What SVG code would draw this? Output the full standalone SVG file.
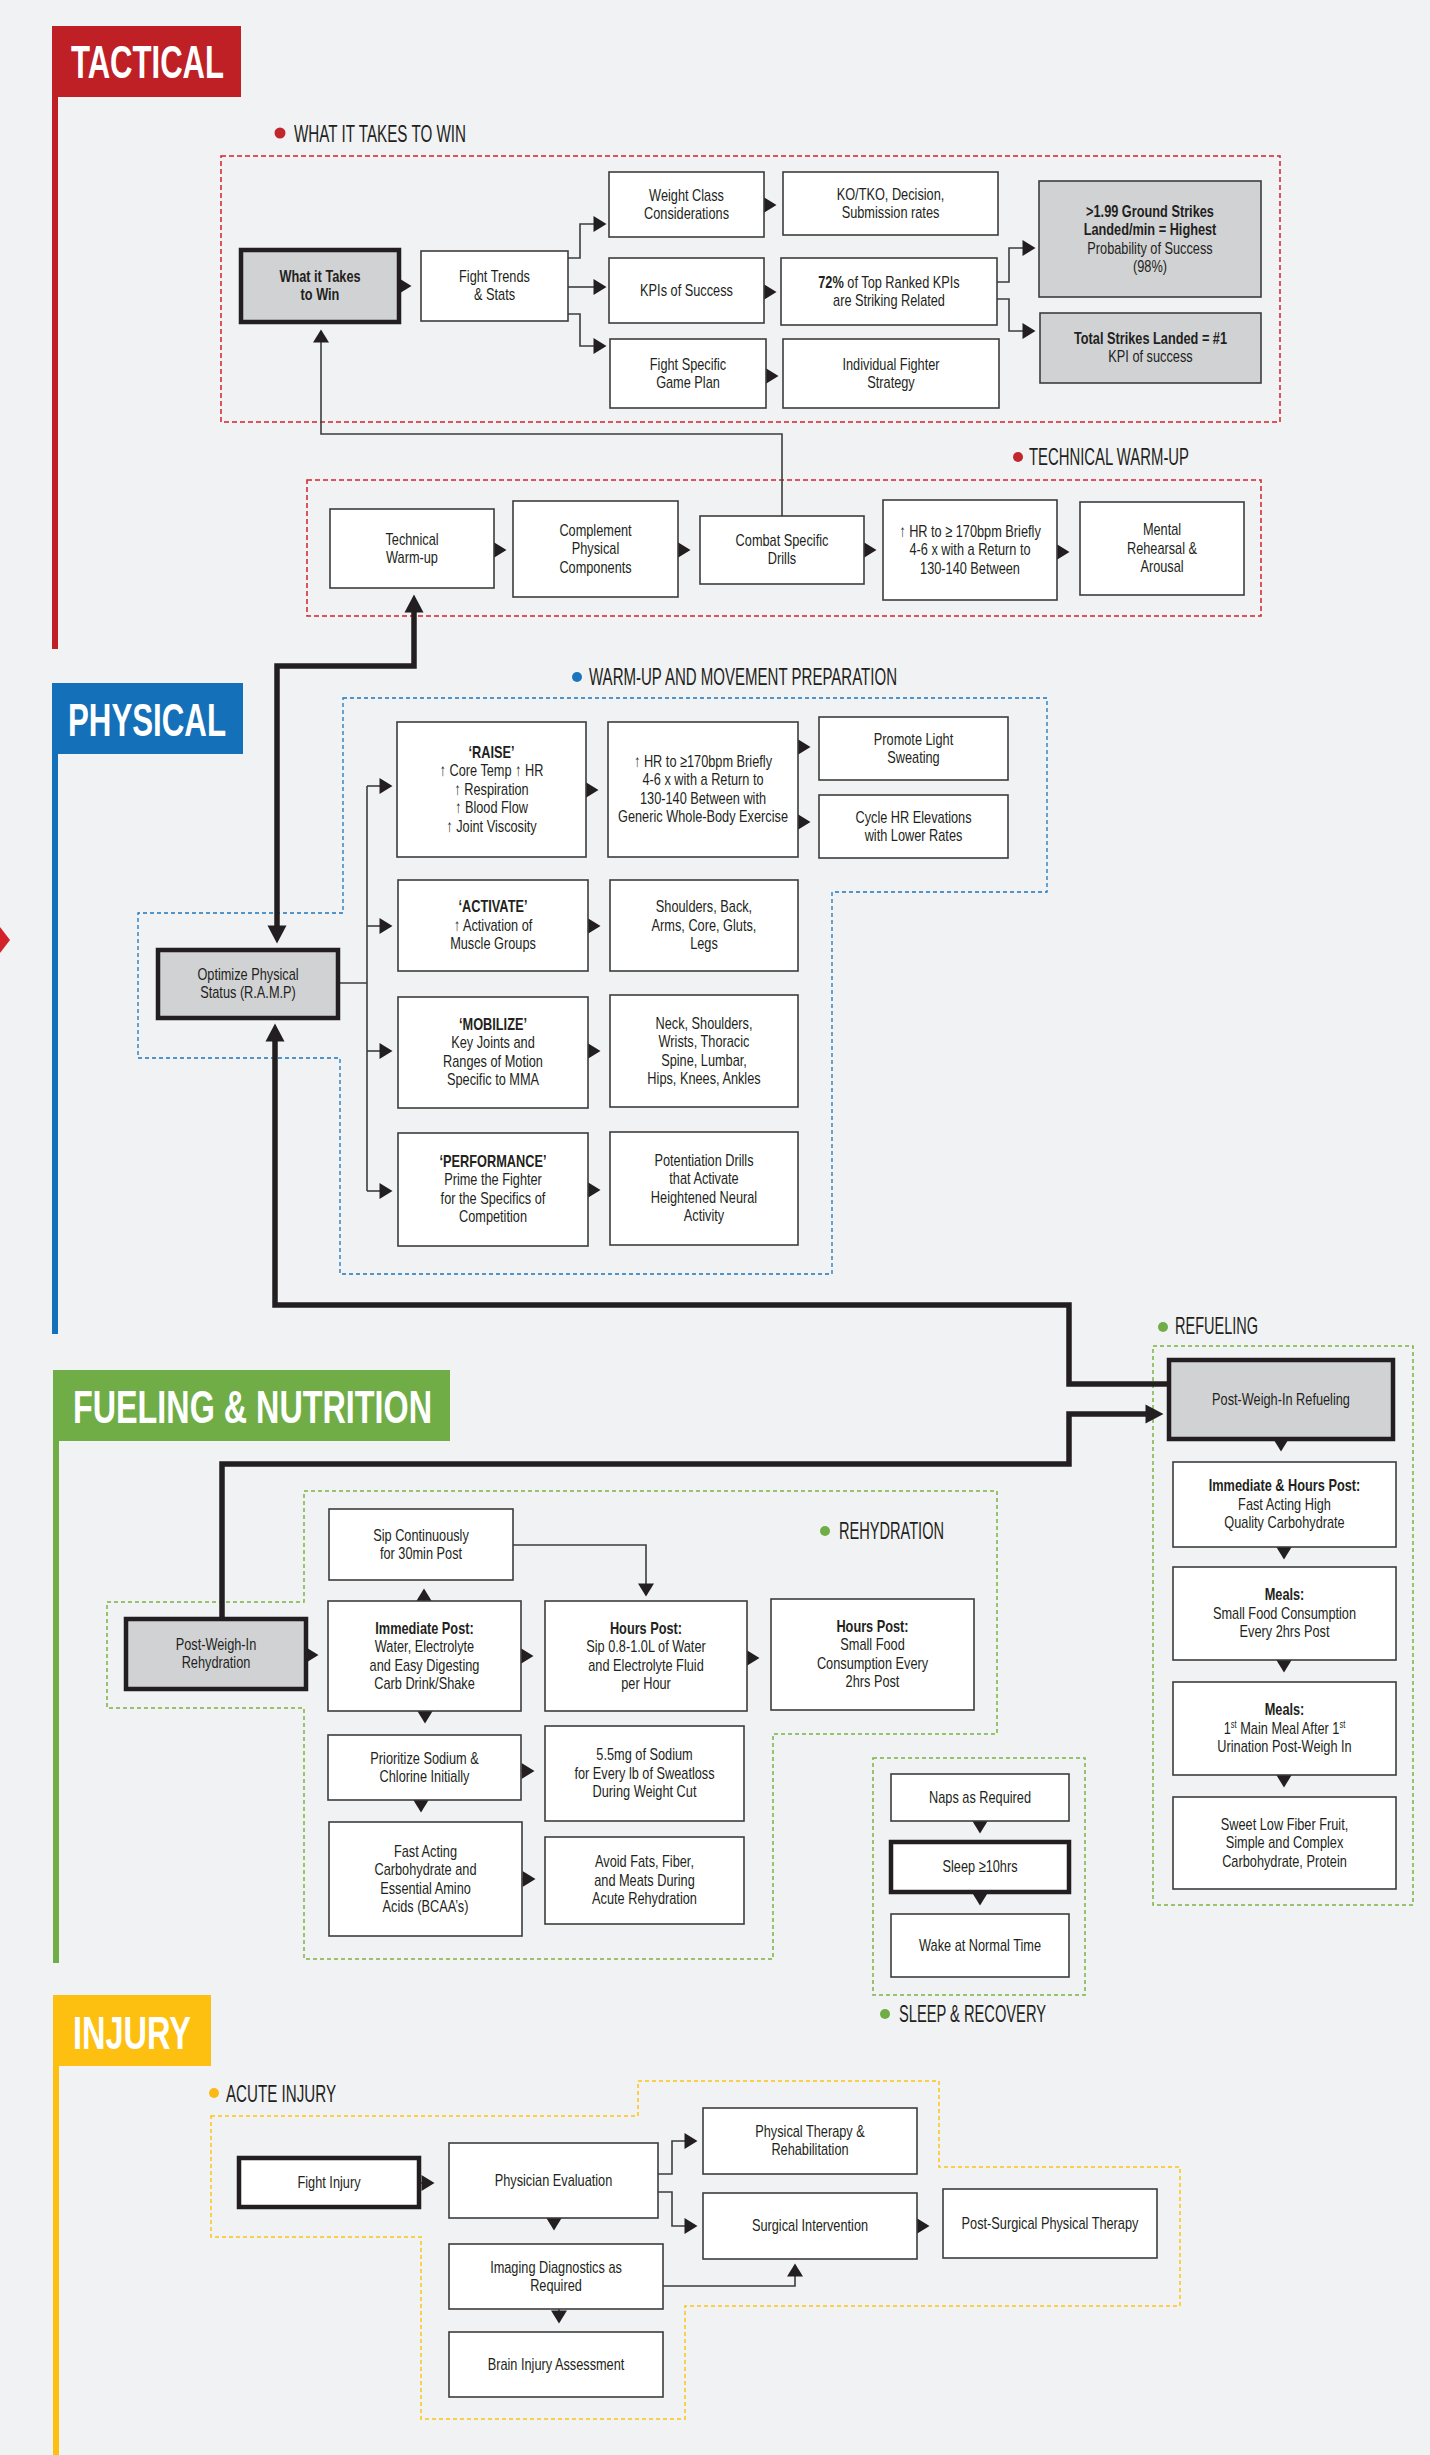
<svg xmlns="http://www.w3.org/2000/svg" width="1430" height="2455" viewBox="0 0 1430 2455">
<style>
.t{font-family:"Liberation Sans",Arial,"DejaVu Sans",sans-serif;font-size:17px;fill:#231f20;text-anchor:middle}
.b{font-weight:bold}
.h{font-family:"Liberation Sans",Arial,"DejaVu Sans",sans-serif;font-weight:bold;font-size:46px;fill:#ffffff}
.lab{font-family:"Liberation Sans",Arial,"DejaVu Sans",sans-serif;font-size:24px;fill:#231f20}
.box{fill:#ffffff;stroke:#3d3d3d;stroke-width:1.6}
.gbox{fill:#d1d2d4;stroke:#3d3d3d;stroke-width:1.6}
.tk{stroke:#231f20;stroke-width:4.5}
.c{fill:none;stroke:#3d3d3d;stroke-width:1.6}
.ct{fill:none;stroke:#231f20;stroke-width:5.5}
.dr{fill:none;stroke:#d2232a;stroke-width:1.5;stroke-dasharray:5 3}
.db{fill:none;stroke:#1c75bc;stroke-width:1.3;stroke-dasharray:4 3}
.dg{fill:none;stroke:#7cb342;stroke-width:1.5;stroke-dasharray:4 3}
.dy{fill:none;stroke:#fcc314;stroke-width:1.5;stroke-dasharray:4 3}
</style>
<defs>
<marker id="a" markerUnits="userSpaceOnUse" markerWidth="14" markerHeight="17" refX="0.5" refY="8" orient="auto" overflow="visible"><path d="M0,0 L13,8 L0,16 Z" fill="#231f20"/></marker>
<marker id="b" markerUnits="userSpaceOnUse" markerWidth="19" markerHeight="20" refX="0.5" refY="9.5" orient="auto-start-reverse" overflow="visible"><path d="M0,0 L18,9.5 L0,19 Z" fill="#231f20"/></marker>
</defs>
<rect x="0" y="0" width="1430" height="2455" fill="#f1f2f4"/>

<g id="sec-tactical">
<rect x="52" y="26" width="189" height="71" fill="#be2026"/>
<rect x="52" y="97" width="6" height="552" fill="#be2026"/>
<text class="h" x="71" y="78" textLength="153" lengthAdjust="spacingAndGlyphs">TACTICAL</text>
</g>
<g id="sec-physical">
<rect x="52" y="683" width="191" height="71" fill="#1470b8"/>
<rect x="52" y="754" width="6" height="580" fill="#1470b8"/>
<text class="h" x="68" y="736" textLength="158" lengthAdjust="spacingAndGlyphs">PHYSICAL</text>
</g>
<polygon points="0,927 10,940 0,953" fill="#d2232a"/>
<g id="sec-fueling">
<rect x="53" y="1370" width="397" height="71" fill="#70ad47"/>
<rect x="53" y="1441" width="6" height="522" fill="#70ad47"/>
<text class="h" x="73" y="1423" textLength="359" lengthAdjust="spacingAndGlyphs">FUELING &amp; NUTRITION</text>
</g>
<g id="sec-injury">
<rect x="53" y="1995" width="158" height="71" fill="#fdc010"/>
<rect x="53" y="2066" width="6" height="389" fill="#fdc010"/>
<text class="h" x="73" y="2049" textLength="118" lengthAdjust="spacingAndGlyphs">INJURY</text>
</g>

<g id="grp-win">
<rect class="dr" x="221" y="156" width="1059" height="266"/>
<circle cx="280" cy="133" r="5.5" fill="#c1272d"/>
<text class="lab" x="294" y="142" textLength="172" lengthAdjust="spacingAndGlyphs">WHAT IT TAKES TO WIN</text>
</g>
<g id="grp-tech">
<rect class="dr" x="307" y="480" width="954" height="136"/>
<circle cx="1018" cy="457" r="5" fill="#c1272d"/>
<text class="lab" x="1029" y="465" font-size="22" textLength="160" lengthAdjust="spacingAndGlyphs">TECHNICAL WARM-UP</text>
</g>
<g id="grp-warm">
<polygon class="db" points="343,698 1047,698 1047,892 832,892 832,1274 340,1274 340,1058 138,1058 138,913 343,913"/>
<circle cx="577" cy="677" r="5" fill="#1c75bc"/>
<text class="lab" x="589" y="685" textLength="308" lengthAdjust="spacingAndGlyphs">WARM-UP AND MOVEMENT PREPARATION</text>
</g>
<g id="grp-refuel">
<rect class="dg" x="1153" y="1346" width="260" height="559"/>
<circle cx="1163" cy="1327" r="5" fill="#70ad47"/>
<text class="lab" x="1175" y="1334" font-size="22" textLength="83" lengthAdjust="spacingAndGlyphs">REFUELING</text>
</g>
<g id="grp-rehyd">
<polygon class="dg" points="304,1491 997,1491 997,1734 773,1734 773,1959 304,1959 304,1708 107,1708 107,1602 304,1602"/>
<circle cx="825" cy="1531" r="5" fill="#70ad47"/>
<text class="lab" x="839" y="1539" font-size="22" textLength="105" lengthAdjust="spacingAndGlyphs">REHYDRATION</text>
</g>
<g id="grp-sleep">
<rect class="dg" x="873" y="1758" width="212" height="237"/>
<circle cx="885" cy="2014" r="5" fill="#70ad47"/>
<text class="lab" x="899" y="2022" font-size="22" textLength="147" lengthAdjust="spacingAndGlyphs">SLEEP &amp; RECOVERY</text>
</g>
<g id="grp-acute">
<polygon class="dy" points="211,2116 638,2116 638,2081 939,2081 939,2167 1180,2167 1180,2306 685,2306 685,2419 421,2419 421,2237 211,2237"/>
<circle cx="214" cy="2093" r="5" fill="#fbb917"/>
<text class="lab" x="226" y="2102" font-size="22" textLength="110" lengthAdjust="spacingAndGlyphs">ACUTE INJURY</text>
</g>

<g id="connectors">
<path class="c" d="M398,286 H399" marker-end="url(#a)"/>
<path class="c" d="M568,258 H580 V224 H594" marker-end="url(#a)"/>
<path class="c" d="M568,287 H594" marker-end="url(#a)"/>
<path class="c" d="M568,314 H580 V346 H594" marker-end="url(#a)"/>
<path class="c" d="M763,205 H764" marker-end="url(#a)"/>
<path class="c" d="M763,292 H764" marker-end="url(#a)"/>
<path class="c" d="M765,376 H766" marker-end="url(#a)"/>
<path class="c" d="M997,282 H1009 V248 H1023" marker-end="url(#a)"/>
<path class="c" d="M997,299 H1009 V331 H1023" marker-end="url(#a)"/>
<path class="c" d="M782,516 V434 H321 V342" marker-end="url(#a)"/>

<path class="c" d="M493,550 H494" marker-end="url(#a)"/>
<path class="c" d="M677,550 H678" marker-end="url(#a)"/>
<path class="c" d="M863,550 H864" marker-end="url(#a)"/>
<path class="c" d="M1056,552 H1057" marker-end="url(#a)"/>

<path class="ct" d="M414,612 V666 H277 V926" marker-start="url(#b)" marker-end="url(#b)"/>
<path class="ct" d="M1169,1384 H1069 V1305 H275 V1041" marker-end="url(#b)"/>
<path class="ct" d="M222,1619 V1464 H1069 V1414 H1146" marker-end="url(#b)"/>

<path class="c" d="M338,983 H367 M367,786 V1191"/>
<path class="c" d="M367,786 H380" marker-end="url(#a)"/>
<path class="c" d="M367,926 H380" marker-end="url(#a)"/>
<path class="c" d="M367,1051 H380" marker-end="url(#a)"/>
<path class="c" d="M367,1191 H380" marker-end="url(#a)"/>
<path class="c" d="M585,790 H586" marker-end="url(#a)"/>
<path class="c" d="M797,747 H798" marker-end="url(#a)"/>
<path class="c" d="M797,822 H798" marker-end="url(#a)"/>
<path class="c" d="M587,926 H588" marker-end="url(#a)"/>
<path class="c" d="M587,1051 H588" marker-end="url(#a)"/>
<path class="c" d="M587,1190 H588" marker-end="url(#a)"/>

<path class="c" d="M1281,1438 V1439" marker-end="url(#a)"/>
<path class="c" d="M1284,1546 V1547" marker-end="url(#a)"/>
<path class="c" d="M1284,1659 V1660" marker-end="url(#a)"/>
<path class="c" d="M1284,1774 V1775" marker-end="url(#a)"/>

<path class="c" d="M305,1655 H306" marker-end="url(#a)"/>
<path class="c" d="M520,1656 H521" marker-end="url(#a)"/>
<path class="c" d="M746,1658 H747" marker-end="url(#a)"/>
<path class="c" d="M424,1602 V1601" marker-end="url(#a)"/>
<path class="c" d="M513,1545 H646 V1584" marker-end="url(#a)"/>
<path class="c" d="M425,1710 V1711" marker-end="url(#a)"/>
<path class="c" d="M521,1771 H522" marker-end="url(#a)"/>
<path class="c" d="M421,1799 V1800" marker-end="url(#a)"/>
<path class="c" d="M522,1879 H523" marker-end="url(#a)"/>

<path class="c" d="M980,1820 V1821" marker-end="url(#a)"/>
<path class="c" d="M980,1892 V1893" marker-end="url(#a)"/>

<path class="c" d="M421,2183 H422" marker-end="url(#a)"/>
<path class="c" d="M658,2174 H672 V2141 H685" marker-end="url(#a)"/>
<path class="c" d="M658,2192 H672 V2226 H685" marker-end="url(#a)"/>
<path class="c" d="M916,2226 H917" marker-end="url(#a)"/>
<path class="c" d="M554,2217 V2218" marker-end="url(#a)"/>
<path class="c" d="M663,2286 H795 V2276" marker-end="url(#a)"/>
<path class="c" d="M559,2309 V2311" marker-end="url(#a)"/>
</g>

<g id="n-win"><rect class="gbox tk" x="241" y="250" width="158" height="72"/><text class="t b" transform="translate(320 0) scale(.75 1)" y="282"><tspan x="0">What it Takes</tspan><tspan x="0" dy="18.5">to Win</tspan></text></g>
<g id="n-trends"><rect class="box" x="421" y="251" width="147" height="70"/><text class="t" transform="translate(494.5 0) scale(.75 1)" y="282"><tspan x="0">Fight Trends</tspan><tspan x="0" dy="18.5">&amp; Stats</tspan></text></g>
<g id="n-weight"><rect class="box" x="609" y="172" width="155" height="65"/><text class="t" transform="translate(686.5 0) scale(.75 1)" y="201"><tspan x="0">Weight Class</tspan><tspan x="0" dy="18.5">Considerations</tspan></text></g>
<g id="n-kpis"><rect class="box" x="609" y="258" width="155" height="65"/><text class="t" transform="translate(686.5 0) scale(.75 1)" x="0" y="296">KPIs of Success</text></g>
<g id="n-gameplan"><rect class="box" x="610" y="339" width="156" height="69"/><text class="t" transform="translate(688 0) scale(.75 1)" y="370"><tspan x="0">Fight Specific</tspan><tspan x="0" dy="18.5">Game Plan</tspan></text></g>
<g id="n-ko"><rect class="box" x="783" y="172" width="215" height="63"/><text class="t" transform="translate(890.5 0) scale(.75 1)" y="200"><tspan x="0">KO/TKO, Decision,</tspan><tspan x="0" dy="18.5">Submission rates</tspan></text></g>
<g id="n-72"><rect class="box" x="781" y="258" width="216" height="67"/><text class="t" transform="translate(889 0) scale(.75 1)" y="288"><tspan x="0"><tspan class="b">72%</tspan> of Top Ranked KPIs</tspan><tspan x="0" dy="18.5">are Striking Related</tspan></text></g>
<g id="n-indiv"><rect class="box" x="783" y="339" width="216" height="69"/><text class="t" transform="translate(891 0) scale(.75 1)" y="370"><tspan x="0">Individual Fighter</tspan><tspan x="0" dy="18.5">Strategy</tspan></text></g>
<g id="n-199"><rect class="gbox" x="1039" y="181" width="222" height="116"/><text class="t" transform="translate(1150 0) scale(.75 1)" y="217"><tspan class="b" x="0">&gt;1.99 Ground Strikes</tspan><tspan class="b" x="0" dy="18.5">Landed/min = Highest</tspan><tspan x="0" dy="18.5">Probability of Success</tspan><tspan x="0" dy="18.5">(98%)</tspan></text></g>
<g id="n-total"><rect class="gbox" x="1040" y="313" width="221" height="70"/><text class="t" transform="translate(1150.5 0) scale(.75 1)" y="344"><tspan class="b" x="0">Total Strikes Landed = #1</tspan><tspan x="0" dy="18.5">KPI of success</tspan></text></g>

<g id="n-tw"><rect class="box" x="330" y="509" width="164" height="79"/><text class="t" transform="translate(412 0) scale(.75 1)" y="545"><tspan x="0">Technical</tspan><tspan x="0" dy="18.5">Warm-up</tspan></text></g>
<g id="n-comp"><rect class="box" x="513" y="501" width="165" height="96"/><text class="t" transform="translate(595.5 0) scale(.75 1)" y="536"><tspan x="0">Complement</tspan><tspan x="0" dy="18.5">Physical</tspan><tspan x="0" dy="18.5">Components</tspan></text></g>
<g id="n-combat"><rect class="box" x="700" y="516" width="164" height="68"/><text class="t" transform="translate(782 0) scale(.75 1)" y="546"><tspan x="0">Combat Specific</tspan><tspan x="0" dy="18.5">Drills</tspan></text></g>
<g id="n-hr1"><rect class="box" x="883" y="500" width="174" height="100"/><text class="t" transform="translate(970 0) scale(.75 1)" y="537"><tspan x="0">↑ HR to ≥ 170bpm Briefly</tspan><tspan x="0" dy="18.5">4-6 x with a Return to</tspan><tspan x="0" dy="18.5">130-140 Between</tspan></text></g>
<g id="n-mental"><rect class="box" x="1080" y="502" width="164" height="93"/><text class="t" transform="translate(1162 0) scale(.75 1)" y="535.5"><tspan x="0">Mental</tspan><tspan x="0" dy="18.5">Rehearsal &amp;</tspan><tspan x="0" dy="18.5">Arousal</tspan></text></g>

<g id="n-opt"><rect class="gbox tk" x="158" y="950" width="180" height="68"/><text class="t" transform="translate(248 0) scale(.75 1)" y="980"><tspan x="0">Optimize Physical</tspan><tspan x="0" dy="18.5">Status (R.A.M.P)</tspan></text></g>
<g id="n-raise"><rect class="box" x="397" y="722" width="189" height="135"/><text class="t" transform="translate(491.5 0) scale(.75 1)" y="758"><tspan class="b" x="0">‘RAISE’</tspan><tspan x="0" dy="18.5">↑ Core Temp  ↑ HR</tspan><tspan x="0" dy="18.5">↑ Respiration</tspan><tspan x="0" dy="18.5">↑ Blood Flow</tspan><tspan x="0" dy="18.5">↑ Joint Viscosity</tspan></text></g>
<g id="n-hr2"><rect class="box" x="608" y="722" width="190" height="135"/><text class="t" transform="translate(703 0) scale(.75 1)" y="767"><tspan x="0">↑ HR to ≥170bpm Briefly</tspan><tspan x="0" dy="18.5">4-6 x with a Return to</tspan><tspan x="0" dy="18.5">130-140 Between with</tspan><tspan x="0" dy="18.5">Generic Whole-Body Exercise</tspan></text></g>
<g id="n-sweat"><rect class="box" x="819" y="717" width="189" height="63"/><text class="t" transform="translate(913.5 0) scale(.75 1)" y="745"><tspan x="0">Promote Light</tspan><tspan x="0" dy="18.5">Sweating</tspan></text></g>
<g id="n-cycle"><rect class="box" x="819" y="795" width="189" height="63"/><text class="t" transform="translate(913.5 0) scale(.75 1)" y="823"><tspan x="0">Cycle HR Elevations</tspan><tspan x="0" dy="18.5">with Lower Rates</tspan></text></g>
<g id="n-activate"><rect class="box" x="398" y="880" width="190" height="91"/><text class="t" transform="translate(493 0) scale(.75 1)" y="912.5"><tspan class="b" x="0">‘ACTIVATE’</tspan><tspan x="0" dy="18.5">↑ Activation of</tspan><tspan x="0" dy="18.5">Muscle Groups</tspan></text></g>
<g id="n-shoulders"><rect class="box" x="610" y="880" width="188" height="91"/><text class="t" transform="translate(704 0) scale(.75 1)" y="912.5"><tspan x="0">Shoulders, Back,</tspan><tspan x="0" dy="18.5">Arms, Core, Gluts,</tspan><tspan x="0" dy="18.5">Legs</tspan></text></g>
<g id="n-mobilize"><rect class="box" x="398" y="997" width="190" height="111"/><text class="t" transform="translate(493 0) scale(.75 1)" y="1030"><tspan class="b" x="0">‘MOBILIZE’</tspan><tspan x="0" dy="18.5">Key Joints and</tspan><tspan x="0" dy="18.5">Ranges of Motion</tspan><tspan x="0" dy="18.5">Specific to MMA</tspan></text></g>
<g id="n-neck"><rect class="box" x="610" y="995" width="188" height="112"/><text class="t" transform="translate(704 0) scale(.75 1)" y="1029"><tspan x="0">Neck, Shoulders,</tspan><tspan x="0" dy="18.5">Wrists, Thoracic</tspan><tspan x="0" dy="18.5">Spine, Lumbar,</tspan><tspan x="0" dy="18.5">Hips, Knees, Ankles</tspan></text></g>
<g id="n-perf"><rect class="box" x="398" y="1133" width="190" height="113"/><text class="t" transform="translate(493 0) scale(.75 1)" y="1167"><tspan class="b" x="0">‘PERFORMANCE’</tspan><tspan x="0" dy="18.5">Prime the Fighter</tspan><tspan x="0" dy="18.5">for the Specifics of</tspan><tspan x="0" dy="18.5">Competition</tspan></text></g>
<g id="n-pot"><rect class="box" x="610" y="1132" width="188" height="113"/><text class="t" transform="translate(704 0) scale(.75 1)" y="1166"><tspan x="0">Potentiation Drills</tspan><tspan x="0" dy="18.5">that Activate</tspan><tspan x="0" dy="18.5">Heightened Neural</tspan><tspan x="0" dy="18.5">Activity</tspan></text></g>

<g id="n-refuel"><rect class="gbox tk" x="1169" y="1360" width="224" height="79"/><text class="t" transform="translate(1281 0) scale(.75 1)" x="0" y="1405">Post-Weigh-In Refueling</text></g>
<g id="n-immhours"><rect class="box" x="1173" y="1462" width="223" height="85"/><text class="t" transform="translate(1284.5 0) scale(.75 1)" y="1491.5"><tspan class="b" x="0">Immediate &amp; Hours Post:</tspan><tspan x="0" dy="18.5">Fast Acting High</tspan><tspan x="0" dy="18.5">Quality Carbohydrate</tspan></text></g>
<g id="n-meals1"><rect class="box" x="1173" y="1567" width="223" height="93"/><text class="t" transform="translate(1284.5 0) scale(.75 1)" y="1600.5"><tspan class="b" x="0">Meals:</tspan><tspan x="0" dy="18.5">Small Food Consumption</tspan><tspan x="0" dy="18.5">Every 2hrs Post</tspan></text></g>
<g id="n-meals2"><rect class="box" x="1173" y="1682" width="223" height="93"/><text class="t" transform="translate(1284.5 0) scale(.75 1)" y="1715.5"><tspan class="b" x="0">Meals:</tspan><tspan x="0" dy="18.5">1<tspan font-size="10" baseline-shift="super">st</tspan> Main Meal After 1<tspan font-size="10" baseline-shift="super">st</tspan></tspan><tspan x="0" dy="18.5">Urination Post-Weigh In</tspan></text></g>
<g id="n-sweet"><rect class="box" x="1173" y="1797" width="223" height="92"/><text class="t" transform="translate(1284.5 0) scale(.75 1)" y="1830"><tspan x="0">Sweet Low Fiber Fruit,</tspan><tspan x="0" dy="18.5">Simple and Complex</tspan><tspan x="0" dy="18.5">Carbohydrate, Protein</tspan></text></g>

<g id="n-sip"><rect class="box" x="329" y="1509" width="184" height="71"/><text class="t" transform="translate(421 0) scale(.75 1)" y="1541"><tspan x="0">Sip Continuously</tspan><tspan x="0" dy="18.5">for 30min Post</tspan></text></g>
<g id="n-rehyd"><rect class="gbox tk" x="126" y="1619" width="180" height="70"/><text class="t" transform="translate(216 0) scale(.75 1)" y="1650"><tspan x="0">Post-Weigh-In</tspan><tspan x="0" dy="18.5">Rehydration</tspan></text></g>
<g id="n-imm"><rect class="box" x="328" y="1601" width="193" height="110"/><text class="t" transform="translate(424.5 0) scale(.75 1)" y="1634"><tspan class="b" x="0">Immediate Post:</tspan><tspan x="0" dy="18.5">Water, Electrolyte</tspan><tspan x="0" dy="18.5">and Easy Digesting</tspan><tspan x="0" dy="18.5">Carb Drink/Shake</tspan></text></g>
<g id="n-hours1"><rect class="box" x="545" y="1601" width="202" height="110"/><text class="t" transform="translate(646 0) scale(.75 1)" y="1634"><tspan class="b" x="0">Hours Post:</tspan><tspan x="0" dy="18.5">Sip 0.8-1.0L of Water</tspan><tspan x="0" dy="18.5">and Electrolyte Fluid</tspan><tspan x="0" dy="18.5">per Hour</tspan></text></g>
<g id="n-hours2"><rect class="box" x="771" y="1599" width="203" height="111"/><text class="t" transform="translate(872.5 0) scale(.75 1)" y="1632"><tspan class="b" x="0">Hours Post:</tspan><tspan x="0" dy="18.5">Small Food</tspan><tspan x="0" dy="18.5">Consumption Every</tspan><tspan x="0" dy="18.5">2hrs Post</tspan></text></g>
<g id="n-prior"><rect class="box" x="328" y="1735" width="193" height="65"/><text class="t" transform="translate(424.5 0) scale(.75 1)" y="1764"><tspan x="0">Prioritize Sodium &amp;</tspan><tspan x="0" dy="18.5">Chlorine Initially</tspan></text></g>
<g id="n-55"><rect class="box" x="545" y="1726" width="199" height="95"/><text class="t" transform="translate(644.5 0) scale(.75 1)" y="1760.5"><tspan x="0">5.5mg of Sodium</tspan><tspan x="0" dy="18.5">for Every lb of Sweatloss</tspan><tspan x="0" dy="18.5">During Weight Cut</tspan></text></g>
<g id="n-fast"><rect class="box" x="329" y="1822" width="193" height="114"/><text class="t" transform="translate(425.5 0) scale(.75 1)" y="1857"><tspan x="0">Fast Acting</tspan><tspan x="0" dy="18.5">Carbohydrate and</tspan><tspan x="0" dy="18.5">Essential Amino</tspan><tspan x="0" dy="18.5">Acids (BCAA’s)</tspan></text></g>
<g id="n-avoid"><rect class="box" x="545" y="1837" width="199" height="87"/><text class="t" transform="translate(644.5 0) scale(.75 1)" y="1867.5"><tspan x="0">Avoid Fats, Fiber,</tspan><tspan x="0" dy="18.5">and Meats During</tspan><tspan x="0" dy="18.5">Acute Rehydration</tspan></text></g>

<g id="n-naps"><rect class="box" x="891" y="1774" width="178" height="47"/><text class="t" transform="translate(980 0) scale(.75 1)" x="0" y="1803">Naps as Required</text></g>
<g id="n-sleep"><rect class="box tk" x="891" y="1842" width="178" height="50"/><text class="t" transform="translate(980 0) scale(.75 1)" x="0" y="1872.5">Sleep ≥10hrs</text></g>
<g id="n-wake"><rect class="box" x="891" y="1914" width="178" height="63"/><text class="t" transform="translate(980 0) scale(.75 1)" x="0" y="1951">Wake at Normal Time</text></g>

<g id="n-fight"><rect class="box tk" x="239" y="2158" width="180" height="49"/><text class="t" transform="translate(329 0) scale(.75 1)" x="0" y="2188">Fight Injury</text></g>
<g id="n-phys"><rect class="box" x="449" y="2143" width="209" height="75"/><text class="t" transform="translate(553.5 0) scale(.75 1)" x="0" y="2186">Physician Evaluation</text></g>
<g id="n-pt"><rect class="box" x="703" y="2108" width="214" height="66"/><text class="t" transform="translate(810 0) scale(.75 1)" y="2137"><tspan x="0">Physical Therapy &amp;</tspan><tspan x="0" dy="18.5">Rehabilitation</tspan></text></g>
<g id="n-surg"><rect class="box" x="703" y="2193" width="214" height="66"/><text class="t" transform="translate(810 0) scale(.75 1)" x="0" y="2231.5">Surgical Intervention</text></g>
<g id="n-post"><rect class="box" x="943" y="2189" width="214" height="69"/><text class="t" transform="translate(1050 0) scale(.75 1)" x="0" y="2229">Post-Surgical Physical Therapy</text></g>
<g id="n-img"><rect class="box" x="449" y="2244" width="214" height="65"/><text class="t" transform="translate(556 0) scale(.75 1)" y="2273"><tspan x="0">Imaging Diagnostics as</tspan><tspan x="0" dy="18.5">Required</tspan></text></g>
<g id="n-brain"><rect class="box" x="449" y="2332" width="214" height="65"/><text class="t" transform="translate(556 0) scale(.75 1)" x="0" y="2370">Brain Injury Assessment</text></g>
</svg>
